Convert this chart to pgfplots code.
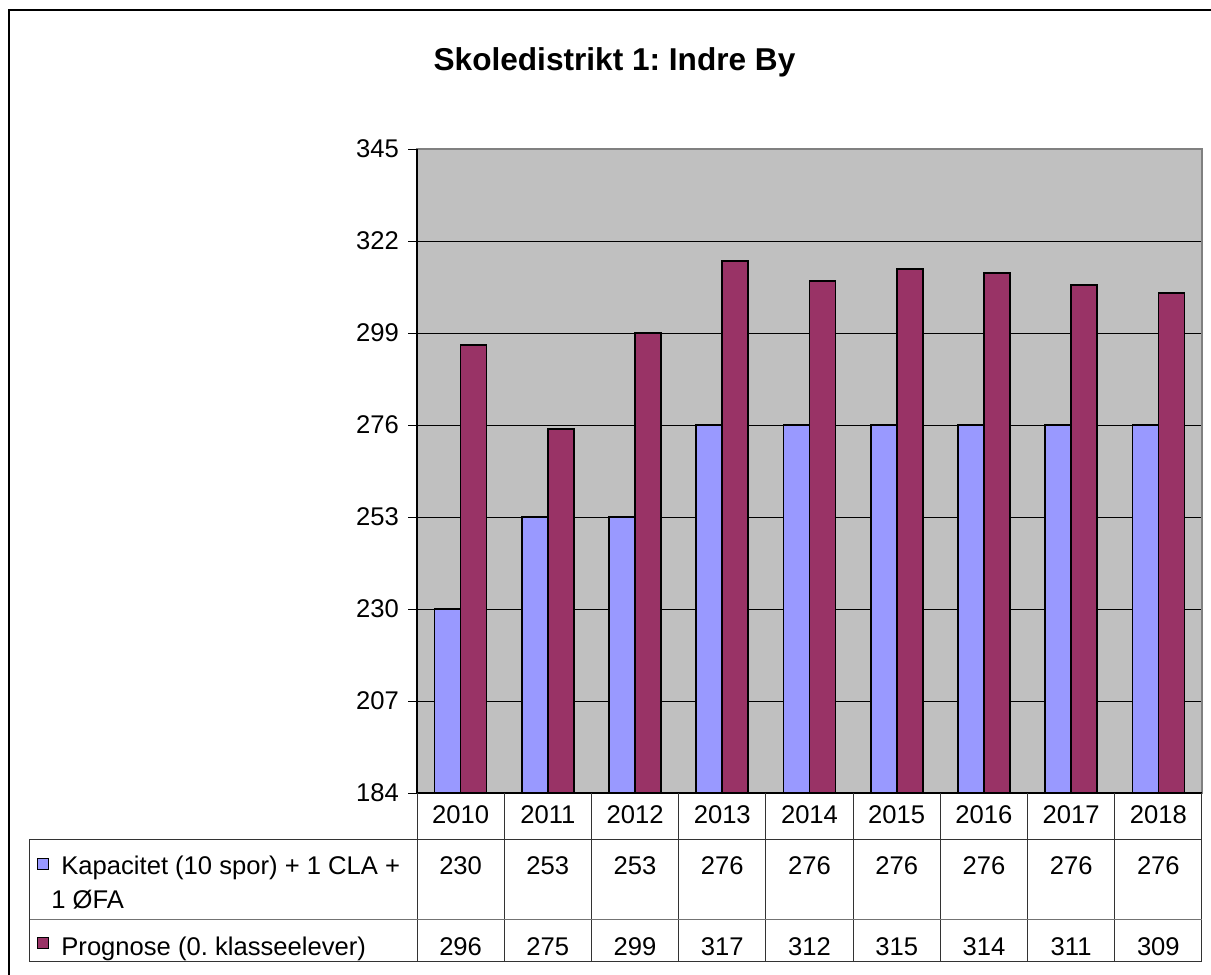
\documentclass[border=0pt]{standalone}
\usepackage{fontspec}
\setmainfont{Liberation Sans}
\usepackage{pgfplots}
\usepackage{pgfplotstable}
\pgfplotsset{compat=1.18}
\definecolor{kapblue}{RGB}{153,153,255}
\definecolor{progred}{RGB}{153,51,102}
\definecolor{plotgray}{RGB}{192,192,192}
\definecolor{framegray}{RGB}{128,128,128}

% year index, capacity, forecast
\pgfplotstableread{
x kap prog
0 230 296
1 253 275
2 253 299
3 276 317
4 276 312
5 276 315
6 276 314
7 276 311
8 276 309
}\skoledata

\newcommand{\lbl}{\fontsize{12.8}{17}\selectfont}
\frenchspacing

\begin{document}
\begin{tikzpicture}[x=0.5pt,y=-0.5pt]
\path[use as bounding box] (0,0) rectangle (1211,975);
\draw[line width=0.8pt] (9,975) -- (9,10) -- (1211,10);
\node[anchor=base, inner sep=0pt, font=\bfseries\fontsize{15.8}{20}\selectfont] at (614.5,70.7) {Skoledistrikt 1: Indre By};

\begin{axis}[
    at={(208.5pt,-396.5pt)}, anchor=south west,
    scale only axis, width=392.5pt, height=322pt,
    xmin=-0.5, xmax=8.5, ymin=184, ymax=345,
    ytick={184,207,230,253,276,299,322,345},
    xtick={0,1,2,3,4,5,6,7,8},
    xticklabels={2010,2011,2012,2013,2014,2015,2016,2017,2018},
    xtick style={draw=none},
    ytick style={black, line width=0.5pt},
    tick pos=left,
    tick align=outside, major tick length=4.5pt,
    ymajorgrids, major grid style={black, line width=0.5pt},
    axis background/.style={fill=plotgray},
    axis line style={framegray, line width=0.6pt},
    tick label style={font=\lbl},
    /pgf/number format/assume math mode=true,
    xticklabel style={anchor=base, yshift=-10.5pt},
    yticklabel style={anchor=east, xshift=-1pt},
    clip mode=individual,
]
\addplot[ybar, bar width=13pt, bar shift=-6.5pt, fill=kapblue, draw=black, line width=0.8pt]
    table[x=x, y=kap] {\skoledata};
\addplot[ybar, bar width=13pt, bar shift=6.5pt, fill=progred, draw=black, line width=0.8pt]
    table[x=x, y=prog] {\skoledata};
% data table values below the axis
\addplot[draw=none, mark=none, forget plot, nodes near coords, point meta=explicit,
    every node near coord/.style={anchor=base, yshift=-40.5pt, font=\lbl, black}]
    table[x=x, y expr=184, meta=kap] {\skoledata};
\addplot[draw=none, mark=none, forget plot, nodes near coords, point meta=explicit,
    every node near coord/.style={anchor=base, yshift=-81pt, font=\lbl, black}]
    table[x=x, y expr=184, meta=prog] {\skoledata};
\draw[black, line width=0.6pt] (rel axis cs:0,1) -- (rel axis cs:0,0) -- (rel axis cs:1,0);
\end{axis}

% table grid
\foreach \k in {0,...,9} {
  \draw[black!80, line width=0.5pt] (417+\k*87.2,793) -- (417+\k*87.2,961);
}
\draw[black!80, line width=0.5pt] (29,839) -- (1202,839);
\draw[black!55, line width=0.5pt] (29,919) -- (1202,919);
\draw[black!80, line width=0.5pt] (29,961) -- (1202,961);
\draw[black!80, line width=0.5pt] (29,839) -- (29,961);

% legend keys
\draw[fill=kapblue, line width=0.6pt] (37.5,858.5) rectangle (48.5,869.5);
\draw[fill=progred, line width=0.6pt] (37.5,937.5) rectangle (48.5,948.5);
\node[anchor=base west, inner sep=0pt, font=\lbl] at (61,874) {Kapacitet (10 spor) + 1 CLA +};
\node[anchor=base west, inner sep=0pt, font=\lbl] at (51,908) {1 ØFA};
\node[anchor=base west, inner sep=0pt, font=\lbl] at (61,955) {Prognose (0. klasseelever)};
\end{tikzpicture}
\end{document}
